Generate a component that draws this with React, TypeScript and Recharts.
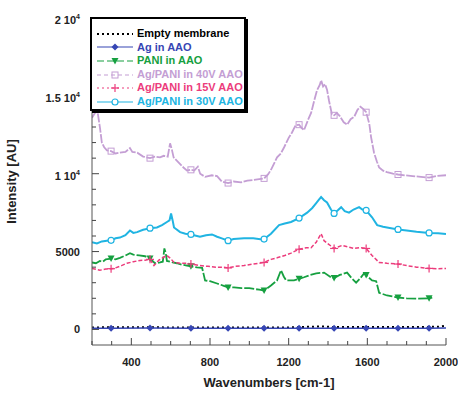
import { LineChart, Line, XAxis, YAxis, Legend } from "recharts";

const FONT = "'Liberation Sans', Arial, Helvetica, sans-serif";

const X_TICKS = [200, 300, 400, 500, 600, 700, 800, 900, 1000, 1100, 1200, 1300, 1400, 1500, 1600, 1700, 1800, 1900, 2000];
const Y_TICKS = [0, 1000, 2000, 3000, 4000, 5000, 6000, 7000, 8000, 9000, 10000, 11000, 12000, 13000, 14000, 15000, 16000, 17000, 18000, 19000, 20000];
// wavenumbers where the symbols sit on every curve
const MARKER_X = [297, 495, 703, 892, 1075, 1253, 1431, 1594, 1756, 1914];

const EMPTY_MEMBRANE: [number, number][] = [
  [200, 130], [400, 140], [600, 130], [800, 120], [1000, 120], [1200, 130],
  [1300, 170], [1360, 190], [1450, 150], [1600, 150], [1800, 150], [1960, 170], [2000, 230],
];

const AG_AAO: [number, number][] = [
  [200, 80], [297, 80], [495, 90], [703, 80], [892, 70], [1075, 80],
  [1253, 80], [1431, 80], [1594, 80], [1756, 80], [1914, 80], [2000, 90],
];

const PANI_AAO: [number, number][] = [
  [200, 4300], [220, 4250], [240, 4400], [255, 4350], [270, 4500], [297, 4550], [320, 4500],
  [342, 4600], [370, 4750], [393, 4900], [410, 4800], [440, 4750], [470, 4700], [495, 4550],
  [520, 4250], [546, 4300], [560, 4350], [568, 5200], [575, 4900], [581, 4400], [610, 4300],
  [632, 4250], [660, 4150], [683, 4100], [703, 4050], [734, 3980], [760, 3950], [775, 3150],
  [800, 3100], [836, 2950], [870, 2800], [892, 2700], [922, 2700], [960, 2650], [1000, 2650],
  [1024, 2600], [1050, 2550], [1075, 2500], [1110, 2820], [1141, 3150], [1161, 3800],
  [1175, 3400], [1187, 3150], [1227, 3150], [1253, 3250], [1278, 3350], [1310, 3500],
  [1340, 3600], [1380, 3650], [1415, 3350], [1431, 3300], [1460, 3500], [1497, 3650],
  [1520, 3300], [1543, 3000], [1565, 3300], [1583, 3600], [1594, 3500], [1610, 3300],
  [1624, 3150], [1645, 3100], [1660, 2350], [1700, 2180], [1756, 2050], [1800, 2000],
  [1850, 1980], [1914, 2000], [1930, 2050],
];

const AG_PANI_40V: [number, number][] = [
  [200, 13600], [215, 13900], [228, 14000], [240, 13000], [250, 12000], [262, 11700],
  [276, 11500], [297, 11450], [320, 11300], [342, 11350], [370, 11400], [393, 11650],
  [405, 11400], [430, 11350], [460, 11100], [495, 11000], [520, 11100], [546, 11050],
  [565, 11150], [585, 11100], [597, 11950], [607, 11500], [615, 11050], [642, 10700],
  [665, 10400], [683, 10200], [703, 10250], [720, 10200], [738, 10450], [750, 10000],
  [775, 9800], [810, 9900], [836, 9850], [860, 9500], [892, 9400], [920, 9500], [958, 9450],
  [990, 9550], [1024, 9600], [1050, 9650], [1075, 9700], [1095, 9950], [1110, 10250],
  [1141, 11050], [1160, 11300], [1177, 11700], [1200, 12300], [1217, 12650], [1235, 13100],
  [1253, 13150], [1265, 12950], [1278, 12800], [1300, 13500], [1314, 13900], [1330, 14700],
  [1344, 15350], [1358, 15700], [1365, 16000], [1375, 15600], [1385, 15750], [1395, 15400],
  [1405, 14700], [1420, 13800], [1431, 13750], [1445, 13900], [1460, 13700], [1480, 13300],
  [1497, 13150], [1515, 13500], [1533, 13650], [1550, 14100], [1565, 14300], [1580, 14150],
  [1594, 13950], [1610, 13200], [1619, 12350], [1634, 11350], [1648, 10800], [1660, 10400],
  [1680, 10200], [1700, 10100], [1730, 10000], [1756, 9950], [1790, 9900], [1830, 9850],
  [1873, 9800], [1914, 9750], [1950, 9850], [2000, 9900],
];

const AG_PANI_15V: [number, number][] = [
  [200, 3920], [240, 3800], [270, 3880], [297, 3900], [312, 3920], [350, 4100], [378, 4250],
  [410, 4350], [444, 4430], [470, 4450], [495, 4500], [515, 4100], [540, 4450], [566, 4650],
  [580, 4750], [600, 4550], [617, 4300], [650, 4250], [683, 4250], [703, 4200], [749, 4100],
  [790, 4050], [830, 4000], [871, 4000], [892, 3950], [930, 4050], [973, 4100], [1020, 4200],
  [1075, 4300], [1110, 4500], [1141, 4600], [1180, 4750], [1212, 4900], [1253, 5150],
  [1290, 5250], [1314, 5250], [1340, 5600], [1365, 6150], [1380, 5700], [1395, 5550],
  [1431, 5200], [1472, 5400], [1500, 5300], [1533, 5200], [1560, 5250], [1594, 5200],
  [1624, 4750], [1660, 4300], [1700, 4250], [1756, 4200], [1800, 4100], [1850, 4000],
  [1914, 3920], [1960, 3900], [2000, 3920],
];

const AG_PANI_30V: [number, number][] = [
  [200, 5600], [225, 5520], [250, 5650], [275, 5700], [297, 5720], [320, 5850], [342, 5900],
  [370, 6050], [393, 6350], [410, 6200], [429, 6250], [460, 6400], [495, 6500], [530, 6550],
  [556, 6700], [581, 6900], [594, 7000], [602, 7450], [610, 7000], [617, 6550], [648, 6250],
  [675, 6150], [703, 6100], [749, 5950], [780, 6050], [810, 6100], [836, 5950], [860, 5850],
  [892, 5700], [920, 5800], [973, 5850], [1020, 5850], [1065, 5780], [1075, 5800],
  [1110, 6150], [1151, 6700], [1180, 6800], [1212, 6900], [1253, 7150], [1294, 7500],
  [1320, 7800], [1339, 8100], [1355, 8350], [1365, 8500], [1380, 8300], [1395, 8150],
  [1415, 7700], [1431, 7450], [1450, 7650], [1467, 7850], [1485, 7600], [1507, 7500],
  [1530, 7700], [1558, 7850], [1575, 7700], [1594, 7650], [1624, 7200], [1650, 6700],
  [1680, 6600], [1700, 6550], [1756, 6420], [1800, 6350], [1850, 6270], [1914, 6200],
  [1960, 6180], [2000, 6130],
];

type Shape = "none" | "diamond" | "triDown" | "square" | "plus" | "circle";

const SERIES = [
  { name: "Empty membrane", pts: EMPTY_MEMBRANE, color: "#000000", dash: "2 3", legendDash: "2 3", width: 2, shape: "none" as Shape },
  { name: "Ag in AAO", pts: AG_AAO, color: "#3646b4", dash: undefined, legendDash: undefined, width: 1.5, shape: "diamond" as Shape },
  { name: "PANI in AAO", pts: PANI_AAO, color: "#16a040", dash: "10 2", legendDash: "7 3", width: 1.8, shape: "triDown" as Shape },
  { name: "Ag/PANI in 40V AAO", pts: AG_PANI_40V, color: "#c49ed4", dash: "9 1.5", legendDash: "4 3", width: 1.8, shape: "square" as Shape },
  { name: "Ag/PANI in 15V AAO", pts: AG_PANI_15V, color: "#ec3c7c", dash: "4 2", legendDash: "2 3", width: 1.5, shape: "plus" as Shape },
  { name: "Ag/PANI in 30V AAO", pts: AG_PANI_30V, color: "#20b4e2", dash: undefined, legendDash: undefined, width: 2, shape: "circle" as Shape },
];

function Marker({ shape, color, cx, cy }: { shape: Shape; color: string; cx: number; cy: number }) {
  if (shape === "diamond")
    return <polygon points={`${cx},${cy - 3.5} ${cx + 3.5},${cy} ${cx},${cy + 3.5} ${cx - 3.5},${cy}`} fill={color} />;
  if (shape === "triDown")
    return <polygon points={`${cx - 3.5},${cy - 3} ${cx + 3.5},${cy - 3} ${cx},${cy + 3.5}`} fill={color} />;
  if (shape === "square")
    return <rect x={cx - 3} y={cy - 3} width={6} height={6} fill="none" stroke={color} strokeWidth={1} />;
  if (shape === "plus")
    return (
      <g stroke={color} strokeWidth={1.2}>
        <line x1={cx - 4} y1={cy} x2={cx + 4} y2={cy} />
        <line x1={cx} y1={cy - 4} x2={cx} y2={cy + 4} />
      </g>
    );
  if (shape === "circle") return <circle cx={cx} cy={cy} r={3} fill="#fff" stroke={color} strokeWidth={1.2} />;
  return null;
}

const makeDot = (shape: Shape, color: string) => (props: any) => {
  const { cx, cy, payload, index } = props;
  if (shape === "none" || cx == null || cy == null || !MARKER_X.includes(payload.x)) return <g key={`n${index}`} />;
  return (
    <g key={`m${index}`}>
      <Marker shape={shape} color={color} cx={cx} cy={cy} />
    </g>
  );
};

const tickText = { fontFamily: FONT, fontWeight: 700, fontSize: 11, fill: "#222" };

function BottomTick({ x, y, payload }: any) {
  const v = payload.value;
  const major = v % 400 === 0;
  return (
    <g>
      <line x1={x} y1={y} x2={x} y2={y - (major ? 7 : 4)} stroke="#444" />
      {major && (
        <text x={x} y={y + 21} textAnchor="middle" style={tickText}>
          {v}
        </text>
      )}
    </g>
  );
}

function TopTick({ x, y, payload }: any) {
  const major = payload.value % 400 === 0;
  return <line x1={x} y1={y} x2={x} y2={y + (major ? 7 : 4)} stroke="#444" />;
}

function LeftTick({ x, y, payload }: any) {
  const v = payload.value;
  const major = v % 5000 === 0;
  let label: any = null;
  if (major) {
    if (v < 10000) {
      label = (
        <text x={x - 12} y={y + 4} textAnchor="end" style={tickText}>
          {v}
        </text>
      );
    } else {
      label = (
        <text x={x - 12} y={y + 6} textAnchor="end" style={tickText}>
          {`${v / 10000} 10`}
          <tspan dy={-5} fontSize={7}>4</tspan>
        </text>
      );
    }
  }
  return (
    <g>
      <line x1={x} y1={y} x2={x + (major ? 7 : 4)} y2={y} stroke="#444" />
      {label}
    </g>
  );
}

function RightTick({ x, y, payload }: any) {
  const major = payload.value % 5000 === 0;
  return <line x1={x} y1={y} x2={x - (major ? 7 : 4)} y2={y} stroke="#444" />;
}

function LegendBox() {
  return (
    <div
      style={{
        width: 156,
        height: 94,
        border: "2px solid #000",
        boxShadow: "2px 2px 0 #000",
        background: "#fff",
        padding: "8px 0 0 5px",
        boxSizing: "border-box",
        fontFamily: FONT,
        fontWeight: 700,
        fontSize: 11,
        lineHeight: "13.6px",
        whiteSpace: "nowrap",
      }}
    >
      {SERIES.map((s) => (
        <div key={s.name} style={{ display: "flex", alignItems: "center", height: 13.6 }}>
          <svg width={36} height={10} style={{ marginRight: 4 }}>
            <line x1={0} y1={5} x2={36} y2={5} stroke={s.color} strokeWidth={s.shape === "none" ? 2 : 1.2} strokeDasharray={s.legendDash} />
            <Marker shape={s.shape} color={s.color} cx={18} cy={5} />
          </svg>
          <span style={{ color: s.color }}>{s.name}</span>
        </div>
      ))}
    </div>
  );
}

export default function App() {
  return (
    <div style={{ position: "absolute", left: 0, top: 0, width: 458, height: 400, background: "#fff" }}>
      <LineChart width={458} height={400} margin={{ top: 18, right: 12, bottom: 0, left: 0 }}>
        <XAxis
          dataKey="x"
          type="number"
          domain={[200, 2000]}
          ticks={X_TICKS}
          interval={0}
          height={55}
          tickSize={0}
          tickMargin={0}
          tickLine={false}
          axisLine={{ stroke: "#555" }}
          tick={<BottomTick />}
          allowDataOverflow
          label={{
            value: "Wavenumbers [cm-1]",
            position: "insideBottom",
            offset: 13,
            style: { fontFamily: FONT, fontWeight: 700, fontSize: 13, fill: "#222" },
          }}
        />
        <XAxis
          xAxisId="top"
          orientation="top"
          dataKey="x"
          type="number"
          domain={[200, 2000]}
          ticks={X_TICKS}
          interval={0}
          height={0}
          tickSize={0}
          tickMargin={0}
          tickLine={false}
          axisLine={{ stroke: "#555" }}
          tick={<TopTick />}
        />
        <YAxis
          type="number"
          domain={[-1000, 20000]}
          ticks={Y_TICKS}
          interval={0}
          width={92}
          tickSize={0}
          tickMargin={0}
          tickLine={false}
          axisLine={{ stroke: "#555" }}
          tick={<LeftTick />}
          allowDataOverflow
          label={{
            value: "Intensity [AU]",
            angle: -90,
            position: "insideLeft",
            offset: 11,
            style: { fontFamily: FONT, fontWeight: 700, fontSize: 13, fill: "#222", textAnchor: "middle" },
          }}
        />
        <YAxis
          yAxisId="right"
          orientation="right"
          type="number"
          domain={[-1000, 20000]}
          ticks={Y_TICKS}
          interval={0}
          width={0}
          tickSize={0}
          tickMargin={0}
          tickLine={false}
          axisLine={{ stroke: "#555" }}
          tick={<RightTick />}
        />
        {SERIES.map((s) => (
          <Line
            key={s.name}
            name={s.name}
            data={s.pts.map(([x, y]) => ({ x, y }))}
            dataKey="y"
            type="linear"
            stroke={s.color}
            strokeWidth={s.width}
            strokeDasharray={s.dash}
            dot={makeDot(s.shape, s.color)}
            activeDot={false}
            isAnimationActive={false}
          />
        ))}
        <Legend
          layout="vertical"
          align="center"
          verticalAlign="middle"
          content={<LegendBox />}
          wrapperStyle={{ left: 90, top: 17, width: 160, height: 98 }}
        />
      </LineChart>
    </div>
  );
}
